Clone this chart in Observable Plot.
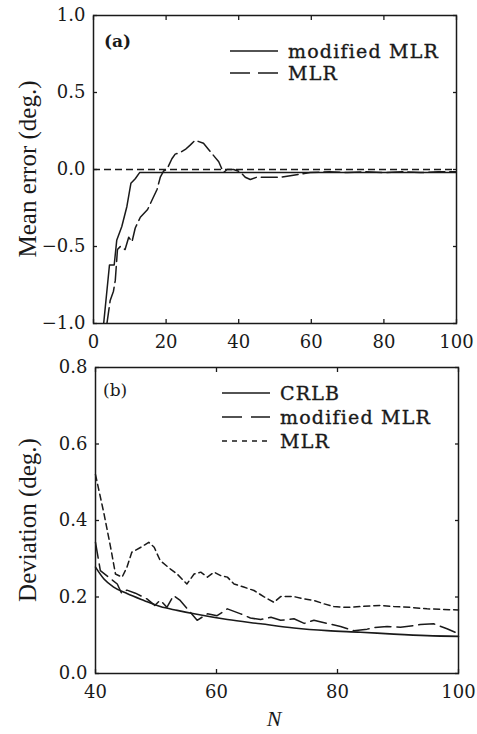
<!DOCTYPE html>
<html>
<head>
<meta charset="utf-8">
<script src="https://cdn.jsdelivr.net/npm/d3@7"></script>
<script src="https://cdn.jsdelivr.net/npm/@observablehq/plot@0.6"></script>
<style>
  html, body { margin:0; padding:0; background:#fff; }
  #wrap { position:relative; width:477px; height:734px; overflow:hidden; }
  #wrap > div, #wrap > svg.plot { display:block; }
  #overlay { position:absolute; left:0; top:0; pointer-events:none; }
</style>
</head>
<body>
<div id="wrap"></div>
<script>
// ---------- Panel (a) data ----------
const aTicksX = [0, 20, 40, 60, 80, 100];
const aTicksY = [-1.0, -0.5, 0.0, 0.5, 1.0];
const aModN = [2.8, 4.4, 5.7, 6.4, 7.8, 9.2, 10.3, 11.5, 12.7, 100];
const aModV = [-1.0, -0.62, -0.62, -0.46, -0.37, -0.24, -0.09, -0.06, -0.02, -0.02];
const aMlrN = [3.7, 4.6, 5.5, 6.0, 6.6, 7.4, 8.7, 9.7, 10.6, 11.5, 12.9, 14.9, 16.1, 17.5, 18.4, 19.3, 20.2,
  21.6, 22.5, 23.9, 25.3, 26.7, 28.0, 30.3, 31.7, 33.1, 34.5, 35.8, 36.8, 38.6, 40.4, 41.8, 43.2, 45,
  47.8, 51.5, 54.2, 57, 59.7, 65, 70, 75, 80, 85, 90, 95, 100];
const aMlrV = [-1.0, -0.85, -0.79, -0.72, -0.52, -0.50, -0.52, -0.44, -0.47, -0.38, -0.31, -0.26, -0.20, -0.13, -0.05, -0.01, 0.0,
  0.07, 0.10, 0.11, 0.13, 0.16, 0.19, 0.17, 0.13, 0.09, 0.05, -0.02, 0, 0, -0.015, -0.05, -0.065, -0.05,
  -0.05, -0.05, -0.04, -0.03, -0.02, -0.015, -0.02, -0.015, -0.02, -0.015, -0.02, -0.015, -0.015];

// ---------- Panel (b) data ----------
const bTicksX = [40, 60, 80, 100];
const bTicksY = [0.0, 0.2, 0.4, 0.6, 0.8];
const bCrlbN = [40, 41.4, 43, 45.2, 48, 50.7, 53.5, 56.3, 61.8, 67.3, 72.8, 78.3, 83.8, 89.3, 94.8, 100];
const bCrlbV = [0.278, 0.247, 0.226, 0.209, 0.191, 0.175, 0.165, 0.156, 0.141, 0.130, 0.119, 0.112, 0.108, 0.103, 0.099, 0.097];
const bModN = [40, 40.8, 43.6, 44.3, 45.2, 46.6, 48.5, 49.8, 50.7, 51.8, 52.9, 54, 55.4, 56.8,
  58.5, 60.1, 61.8, 64, 65.6, 67.3, 69, 70.6, 72.8, 74.5, 76.1, 78.3, 80.5, 82.7, 84.9, 86, 88.2, 90.4, 92.6, 93.7, 95.9, 98.1, 100];
const bModV = [0.343, 0.269, 0.234, 0.21, 0.218, 0.21, 0.195, 0.178, 0.192, 0.173, 0.204, 0.191, 0.165, 0.139,
  0.156, 0.151, 0.169, 0.156, 0.145, 0.141, 0.147, 0.139, 0.143, 0.131, 0.139, 0.131, 0.123, 0.112, 0.116, 0.12, 0.123, 0.121, 0.125, 0.128, 0.13, 0.117, 0.104];
const bMlrN = [40, 41.4, 42.5, 43.3, 44.4, 45.2, 46, 47.5, 48.8, 49.7, 50.7, 52.4, 53.5, 55.1, 56.3, 57.4, 58.5, 59.6, 60.7,
  61.8, 62.9, 64.5, 66.2, 67.8, 69.5, 70.6, 72.8, 74.5, 76.1, 77.8, 79.4, 81.6, 83.8, 87.1, 89.3, 92, 94.8, 100];
const bMlrV = [0.52, 0.418, 0.33, 0.26, 0.252, 0.278, 0.317, 0.33, 0.343, 0.33, 0.295, 0.273, 0.26, 0.234, 0.26, 0.265, 0.252, 0.265, 0.256,
  0.252, 0.234, 0.226, 0.217, 0.201, 0.186, 0.201, 0.201, 0.195, 0.191, 0.182, 0.175, 0.173, 0.175, 0.178, 0.175, 0.173, 0.169, 0.166];

const legendA = ["modified MLR", "MLR"];
const legendB = ["CRLB", "modified MLR", "MLR"];

const zip = (xs, ys) => xs.map((x, i) => ({N: x, v: ys[i]}));
const INK = "#1a1a1a";
const TICKFONT = "DejaVu Serif";
const fmt1 = d3.format(".1f");

function axes(xt, yt) {
  return [
    Plot.axisX(xt, {anchor: "bottom", tickSize: -4, tickPadding: 16, tickFormat: d => String(d), label: null, fontSize: 18, stroke: INK, strokeWidth: 1.3}),
    Plot.axisX(xt, {anchor: "top", tickSize: -4, tickFormat: () => "", label: null, stroke: INK, strokeWidth: 1.3}),
    Plot.axisY(yt, {anchor: "left", tickSize: -4, tickPadding: 12, tickFormat: fmt1, label: null, fontSize: 18, stroke: INK, strokeWidth: 1.3}),
    Plot.axisY(yt, {anchor: "right", tickSize: -4, tickFormat: () => "", label: null, stroke: INK, strokeWidth: 1.3})
  ];
}

const plotA = Plot.plot({
  width: 477, height: 350,
  marginLeft: 93, marginRight: 21, marginTop: 15, marginBottom: 27,
  x: {domain: [0, 100]},
  y: {domain: [-1, 1]},
  style: {fontFamily: TICKFONT, fontSize: "18px", color: INK, background: "white", overflow: "visible"},
  marks: [
    Plot.ruleY([0], {stroke: INK, strokeWidth: 1.4, strokeDasharray: "7,4"}),
    Plot.line(zip(aModN, aModV), {x: "N", y: "v", stroke: INK, strokeWidth: 1.5, clip: true}),
    Plot.line(zip(aMlrN, aMlrV), {x: "N", y: "v", stroke: INK, strokeWidth: 1.5, strokeDasharray: "16,5", clip: true}),
    ...axes(aTicksX, aTicksY),
    Plot.frame({stroke: INK, strokeWidth: 1.5})
  ]
});

const plotB = Plot.plot({
  width: 477, height: 384,
  marginLeft: 95, marginRight: 19, marginTop: 17, marginBottom: 61,
  x: {domain: [40, 100]},
  y: {domain: [0, 0.8]},
  style: {fontFamily: TICKFONT, fontSize: "18px", color: INK, background: "white", overflow: "visible"},
  marks: [
    Plot.line(zip(bCrlbN, bCrlbV), {x: "N", y: "v", stroke: INK, strokeWidth: 1.6, curve: "monotone-x"}),
    Plot.line(zip(bModN, bModV), {x: "N", y: "v", stroke: INK, strokeWidth: 1.5, strokeDasharray: "16,6"}),
    Plot.line(zip(bMlrN, bMlrV), {x: "N", y: "v", stroke: INK, strokeWidth: 1.5, strokeDasharray: "6,4"}),
    ...axes(bTicksX, bTicksY),
    Plot.frame({stroke: INK, strokeWidth: 1.5})
  ]
});

const wrap = document.getElementById("wrap");
wrap.appendChild(plotA);
wrap.appendChild(plotB);

// ---------- Overlay: panel labels, legends, axis titles ----------
const ov = d3.select(wrap).append("svg")
  .attr("id", "overlay").attr("width", 477).attr("height", 734);

function legend(items, dashes, x0, y0, dy) {
  items.forEach((t, i) => {
    const y = y0 + i * dy;
    ov.append("line").attr("x1", x0).attr("x2", x0 + 48).attr("y1", y).attr("y2", y)
      .attr("stroke", INK).attr("stroke-width", 1.7).attr("stroke-dasharray", dashes[i]);
    ov.append("text").attr("x", x0 + 58).attr("y", y).attr("dy", "0.35em")
      .attr("font-family", TICKFONT).attr("font-size", 19).attr("letter-spacing", "1.2px")
      .attr("fill", INK).attr("stroke", INK).attr("stroke-width", 0.35).text(t);
  });
}
legend(legendA, [null, "20,8"], 230, 51, 22);
legend(legendB, [null, "20,9", "5,5"], 222, 393, 24);

ov.append("text").attr("x", 104).attr("y", 41).attr("dy", "0.35em")
  .attr("font-family", TICKFONT).attr("font-size", 17).attr("font-weight", "bold").attr("fill", INK).text("(a)");
ov.append("text").attr("x", 103).attr("y", 390).attr("dy", "0.35em")
  .attr("font-family", TICKFONT).attr("font-size", 17).attr("fill", INK).text("(b)");

function ylab(t, cx, cy) {
  ov.append("text").attr("transform", `translate(${cx},${cy}) rotate(-90)`)
    .attr("text-anchor", "middle").attr("dy", "0.35em")
    .attr("font-family", "Liberation Serif").attr("font-size", 25).attr("fill", INK).text(t);
}
ylab("Mean error (deg.)", 27, 169);
ylab("Deviation (deg.)", 27, 520);

ov.append("text").attr("x", 274).attr("y", 726).attr("text-anchor", "middle")
  .attr("font-family", "Liberation Serif").attr("font-style", "italic").attr("font-size", 22).attr("fill", INK).text("N");
</script>
</body>
</html>
